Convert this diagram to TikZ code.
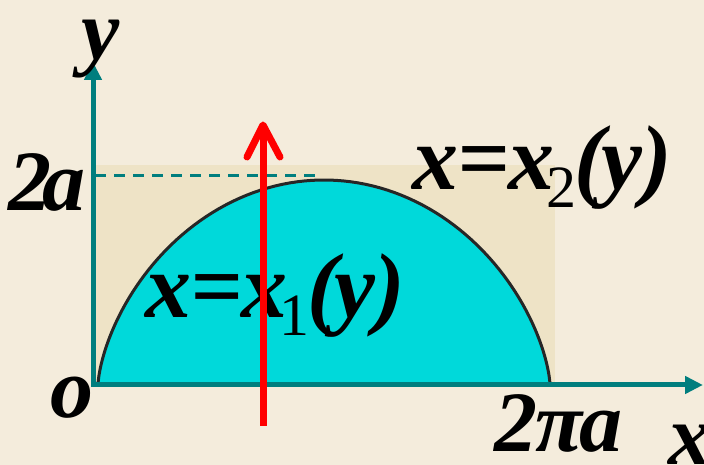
\documentclass[tikz,border=0pt]{standalone}
\usepackage{fontspec}
\setmainfont{Liberation Serif}
\usetikzlibrary{arrows.meta}
\definecolor{bg}{HTML}{F4ECDC}
\definecolor{panel}{HTML}{EEE3C6}
\definecolor{fillc}{HTML}{00D9DA}
\definecolor{axisc}{HTML}{007E7E}
\definecolor{redc}{HTML}{FF0000}
\newcommand{\bigf}{\fontsize{86}{86}\selectfont\bfseries\itshape}
\newcommand{\eqf}{\fontsize{92}{92}\selectfont\bfseries\itshape}
\newcommand{\subf}[1]{\raisebox{-18pt}{\fontsize{60}{60}\selectfont\upshape\mdseries #1}}
\tikzset{
  lbl/.style={inner sep=0pt, font=\bigf},
  eqlbl/.style={inner sep=0pt, font=\eqf},
  axisline/.style={draw=axisc, line width=5pt, -{Triangle[length=18pt,width=17pt]}},
}
\begin{document}
\begin{tikzpicture}[x=1pt,y=1pt]
\useasboundingbox (0,0) rectangle (704,465);
\clip (0,0) rectangle (704,465);
\fill[bg] (0,0) rectangle (704,465);
\fill[panel] (93,80) rectangle (555,300);
% cycloid
\fill[fillc, draw=black!85, line width=3pt, line join=round]
  plot[domain=0:6.2832, samples=120, variable=\t]
  ({98+452*(\t - sin(\t r))/6.2832}, {80+205*(1-cos(\t r))/2}) -- cycle;
% dashed line
\coordinate (d1) at (95,289);
\coordinate (d2) at (318,289);
\draw[axisc, line width=3pt, dash pattern=on 11pt off 8pt] (d1) -- (d2);
% axes
\coordinate (O) at (93,80);
\coordinate (Xend) at (703,80);
\coordinate (Yend) at (93,403);
\draw[axisline] (93,78) -- (Yend);
\draw[axisline] (91,80) -- (Xend);
% labels
\node[lbl] (ly) at (101,416) {y};
\node[lbl] (l2a) at (47,283) {2\kern-9pt a};
\node[lbl] (lo) at (72,67) {o};
\node[lbl] (l2pa) at (558,42) {2\kern-2pt π\kern-3pt a};
\node[lbl] (lx) at (690,20) {x};
\node[eqlbl] (lx2) at (542,297) {x\kern-1pt=\kern-1pt x\kern-8pt\subf{2}\kern-2pt(\kern-4pt y\kern-1pt)};
\node[eqlbl] (lx1) at (275,169) {x\kern-1pt=\kern-1pt x\kern-8pt\subf{1}\kern-2pt(\kern-4pt y\kern-1pt)};
% red arrow
\coordinate (r0) at (263,39);
\coordinate (r1) at (263,340);
\coordinate (rl) at (247,308);
\coordinate (rr) at (280,308);
\draw[redc, line width=7pt] (r0) -- (263,336);
\draw[redc, line width=7pt, line cap=round, line join=round] (rl) -- (r1) -- (rr);
\end{tikzpicture}
\end{document}
